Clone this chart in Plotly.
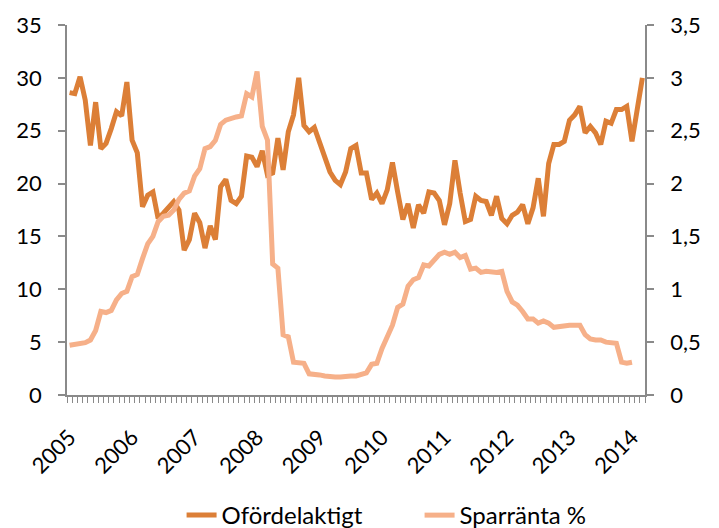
import plotly.graph_objects as go

# Monthly data, Jan 2005 - Mar 2014
year_labels = ["2005", "2006", "2007", "2008", "2009", "2010", "2011", "2012", "2013", "2014"]

ofordelaktigt = [
    28.6, 28.5, 30.1, 27.9, 23.6, 27.7, 23.3, 23.8, 25.2, 26.8, 26.4, 29.6,
    24.1, 22.9, 17.8, 18.9, 19.2, 16.7, 17.2, 17.7, 18.3, 17.5, 13.7, 14.7,
    17.2, 16.3, 13.9, 16.0, 14.7, 19.7, 20.4, 18.4, 18.1, 18.8, 22.6, 22.5,
    21.6, 23.1, 20.8, 21.0, 24.3, 21.3, 24.9, 26.5, 30.0, 25.5, 24.9, 25.3,
    23.8, 22.4, 21.1, 20.3, 19.9, 21.1, 23.3, 23.6, 21.0, 21.0, 18.5, 19.1,
    18.1, 19.4, 22.0, 19.2, 16.6, 18.1, 15.8, 18.0, 17.2, 19.2, 19.1, 18.4,
    16.1, 18.1, 22.2, 19.1, 16.4, 16.6, 18.8, 18.4, 18.3, 17.0, 18.8, 16.7,
    16.2, 17.0, 17.3, 18.0, 16.2, 17.7, 20.5, 16.9, 21.9, 23.7, 23.7, 24.0,
    26.0, 26.5, 27.3, 24.8, 25.4, 24.8, 23.7, 25.9, 25.7, 27.0, 27.0, 27.3,
    24.0, 27.0, 30.0,
]

sparranta = [
    0.47, 0.48, 0.49, 0.495, 0.52, 0.61, 0.79, 0.78, 0.80, 0.90, 0.96, 0.98,
    1.12, 1.14, 1.29, 1.43, 1.50, 1.64, 1.69, 1.70, 1.75, 1.85, 1.91, 1.93,
    2.07, 2.14, 2.33, 2.35, 2.41, 2.56, 2.60, 2.62, 2.63, 2.64, 2.85, 2.82,
    3.06, 2.54, 2.41, 1.24, 1.20, 0.57, 0.55, 0.31, 0.31, 0.30, 0.20, 0.20,
    0.19, 0.18, 0.17, 0.17, 0.17, 0.18, 0.18, 0.18, 0.19, 0.21, 0.29, 0.30,
    0.44, 0.54, 0.66, 0.83, 0.86, 1.03, 1.09, 1.11, 1.23, 1.22, 1.28, 1.33,
    1.35, 1.33, 1.35, 1.30, 1.32, 1.19, 1.20, 1.16, 1.17, 1.16, 1.16, 1.17,
    0.98, 0.88, 0.85, 0.79, 0.72, 0.72, 0.68, 0.70, 0.68, 0.64, 0.65, 0.65,
    0.66, 0.66, 0.66, 0.57, 0.53, 0.52, 0.52, 0.50, 0.50, 0.49, 0.31, 0.30,
    0.31, None, None,
]

left_ticks = [0, 5, 10, 15, 20, 25, 30, 35]
right_ticks = [0, 0.5, 1, 1.5, 2, 2.5, 3, 3.5]
right_tick_text = ["0", "0,5", "1", "1,5", "2", "2,5", "3", "3,5"]

n = len(ofordelaktigt)
x = list(range(n))
year_pos = [i * 12 for i in range(len(year_labels))]

DARK = "#DC7F37"
LIGHT = "#F6B089"
AXIS = "#8A8A8A"
FONT = "Lato, 'Liberation Sans', sans-serif"

fig = go.Figure()
fig.add_trace(go.Scatter(
    x=x, y=ofordelaktigt, name="Ofördelaktigt", mode="lines",
    line=dict(color=DARK, width=5), yaxis="y",
))
fig.add_trace(go.Scatter(
    x=x, y=sparranta, name="Sparränta %", mode="lines",
    line=dict(color=LIGHT, width=5), yaxis="y2", connectgaps=False,
))

# page body adds an 8px offset; figure sized to fit the 719x528 window
fig.update_layout(
    width=711, height=520,
    margin=dict(l=59, r=74, t=17, b=133, autoexpand=False),
    paper_bgcolor="white", plot_bgcolor="white",
    font=dict(family=FONT, size=22, color="black"),
    showlegend=True,
    legend=dict(
        orientation="h", x=0.610, xanchor="center",
        yref="container", y=0.024, yanchor="middle",
        font=dict(size=24), traceorder="normal",
        entrywidth=193, entrywidthmode="pixels",
    ),
    xaxis=dict(
        range=[-0.5, n - 0.5], showgrid=False, zeroline=False, automargin=False,
        showline=True, linecolor=AXIS, linewidth=1.5,
        tickmode="array", tickvals=year_pos, ticktext=year_labels,
        tickangle=-45, ticks="", ticklabelstandoff=19,
        minor=dict(tickmode="linear", tick0=-0.5, dtick=1, ticks="outside",
                   ticklen=6, tickcolor=AXIS, tickwidth=1.2),
    ),
    yaxis=dict(
        range=[0, 35], showgrid=False, zeroline=False, automargin=False,
        showline=True, linecolor=AXIS, linewidth=1.5,
        tickmode="array", tickvals=left_ticks,
        ticks="outside", ticklen=7, tickcolor=AXIS, tickwidth=1.5,
        ticklabelstandoff=12,
    ),
    yaxis2=dict(
        range=[0, 3.5], overlaying="y", side="right", showgrid=False, zeroline=False,
        automargin=False,
        showline=True, linecolor=AXIS, linewidth=1.5,
        tickmode="array", tickvals=right_ticks, ticktext=right_tick_text,
        ticks="outside", ticklen=7, tickcolor=AXIS, tickwidth=1.5,
        ticklabelstandoff=12,
    ),
)

fig.write_html("out.html")
